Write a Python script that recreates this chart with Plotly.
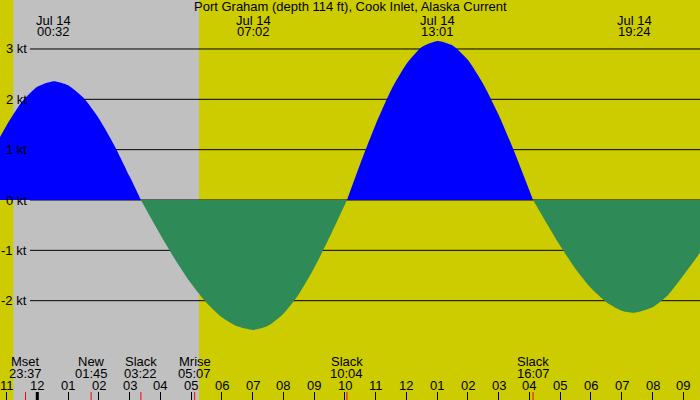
import plotly.graph_objects as go

# ---- data (hours relative to Jul 14 00:00) ----
time_h = [-1.213, -1.0, -0.5, 0.0, 0.533, 1.0, 1.5, 2.0, 2.5, 3.0, 3.367,
          4.0, 4.5, 5.0, 5.5, 6.0, 6.5, 7.033, 7.5, 8.0, 8.5, 9.0, 9.5, 10.067,
          10.5, 11.0, 11.5, 12.0, 12.5, 13.017, 13.5, 14.0, 14.5, 15.0, 15.5, 16.117,
          16.5, 17.0, 17.5, 18.0, 18.5, 19.0, 19.4, 20.0, 20.5, 21.0, 21.544]
speed_kt = [1.25, 1.48, 1.95, 2.25, 2.36, 2.28, 2.03, 1.62, 1.09, 0.47, 0.0,
            -0.69, -1.20, -1.66, -2.04, -2.33, -2.51, -2.58, -2.50, -2.26, -1.87, -1.35, -0.74, 0.0,
            0.72, 1.50, 2.18, 2.70, 3.04, 3.16, 3.07, 2.78, 2.30, 1.69, 0.97, 0.0,
            -0.40, -0.91, -1.37, -1.75, -2.03, -2.20, -2.24, -2.13, -1.89, -1.50, -1.05]

extreme_hours = [0.533, 7.033, 13.017, 19.4]
extreme_dates = ["Jul 14", "Jul 14", "Jul 14", "Jul 14"]
extreme_times = ["00:32", "07:02", "13:01", "19:24"]

event_hours = [-0.383, 1.75, 3.367, 5.117, 10.067, 16.117]
event_names = ["Mset", "New", "Slack", "Mrise", "Slack", "Slack"]
event_times = ["23:37", "01:45", "03:22", "05:07", "10:04", "16:07"]

hour_ticks = list(range(-1, 22))
hour_labels = ["11", "12", "01", "02", "03", "04", "05", "06", "07", "08", "09", "10",
               "11", "12", "01", "02", "03", "04", "05", "06", "07", "08", "09"]

kt_levels = [3, 2, 1, 0, -1, -2]
kt_labels = ["3 kt", "2 kt", "1 kt", "0 kt", "-1 kt", "-2 kt"]

sunset_h = -0.78
sunrise_h = 5.257
x_range = [-1.213, 21.544]
y_range = [-3.973, 3.973]

title = "Port Graham (depth 114 ft), Cook Inlet, Alaska Current"

YELLOW = "#CCCC00"
GRAY = "#C0C0C0"
BLUE = "#0000FF"
GREEN = "#2E8B57"
FONT = "Liberation Sans"

# ---- split into lobes at slack points ----
segments = []
cur_x, cur_y = [], []
for t, v in zip(time_h, speed_kt):
    cur_x.append(t)
    cur_y.append(v)
    if v == 0 and len(cur_x) > 1:
        segments.append((cur_x, cur_y))
        cur_x, cur_y = [t], [v]
if len(cur_x) > 1:
    segments.append((cur_x, cur_y))

fig = go.Figure()
for sx, sy in segments:
    positive = sum(sy) > 0
    col = BLUE if positive else GREEN
    fig.add_trace(go.Scatter(x=sx, y=sy, mode="lines", line=dict(width=0, color=col, shape="spline", smoothing=0.6),
                             fill="tozeroy", fillcolor=col, hoverinfo="skip", showlegend=False))

shapes = []
# night shading
shapes.append(dict(type="rect", xref="x", yref="paper", x0=sunset_h, x1=sunrise_h, y0=0, y1=1,
                   fillcolor=GRAY, line=dict(width=0), layer="below"))
# kt grid lines
for k in kt_levels:
    shapes.append(dict(type="line", xref="paper", yref="y", x0=30 / 700, x1=1, y0=k, y1=k,
                       line=dict(color="black", width=1), layer="below"))
# midnight thick tick
shapes.append(dict(type="line", xref="x", yref="paper", x0=0, x1=0, y0=0, y1=8 / 400,
                   line=dict(color="black", width=3)))
# red event ticks
for h in event_hours:
    shapes.append(dict(type="line", xref="x", yref="paper", x0=h, x1=h, y0=0, y1=8 / 400,
                       line=dict(color="red", width=1)))

annotations = []
font = dict(family=FONT, size=13, color="black")
annotations.append(dict(text=title, xref="paper", yref="paper", x=0.5, y=1 - 7 / 400,
                        xanchor="center", yanchor="middle", showarrow=False, font=font))
for h, d, t in zip(extreme_hours, extreme_dates, extreme_times):
    annotations.append(dict(text=d, xref="x", yref="paper", x=h, y=1 - 20 / 400,
                            xanchor="center", yanchor="middle", showarrow=False, font=font))
    annotations.append(dict(text=t, xref="x", yref="paper", x=h, y=1 - 32 / 400,
                            xanchor="center", yanchor="middle", showarrow=False, font=font))
for h, n, t in zip(event_hours, event_names, event_times):
    annotations.append(dict(text=n, xref="x", yref="paper", x=h, y=(400 - 361.7) / 400,
                            xanchor="center", yanchor="middle", showarrow=False, font=font))
    annotations.append(dict(text=t, xref="x", yref="paper", x=h, y=(400 - 373.3) / 400,
                            xanchor="center", yanchor="middle", showarrow=False, font=font))
for h, lab in zip(hour_ticks, hour_labels):
    annotations.append(dict(text=lab, xref="x", yref="paper", x=h, y=(400 - 385.7) / 400,
                            xanchor="center", yanchor="middle", showarrow=False, font=font))
for k, lab in zip(kt_levels, kt_labels):
    annotations.append(dict(text=lab, xref="paper", yref="y", x=28.5 / 700, y=k,
                            xanchor="right", yanchor="middle", showarrow=False, font=font))

fig.update_layout(
    width=700, height=400,
    margin=dict(l=0, r=0, t=0, b=0, pad=0),
    paper_bgcolor=YELLOW, plot_bgcolor=YELLOW,
    shapes=shapes, annotations=annotations,
    xaxis=dict(range=x_range, showgrid=False, zeroline=False, showline=False,
               tickmode="array", tickvals=hour_ticks, ticks="inside", ticklen=8,
               tickcolor="black", tickwidth=1, showticklabels=False, fixedrange=True),
    yaxis=dict(range=y_range, showgrid=False, zeroline=False, showline=False,
               showticklabels=False, ticks="", fixedrange=True),
    showlegend=False,
)

fig.write_html("out.html")
